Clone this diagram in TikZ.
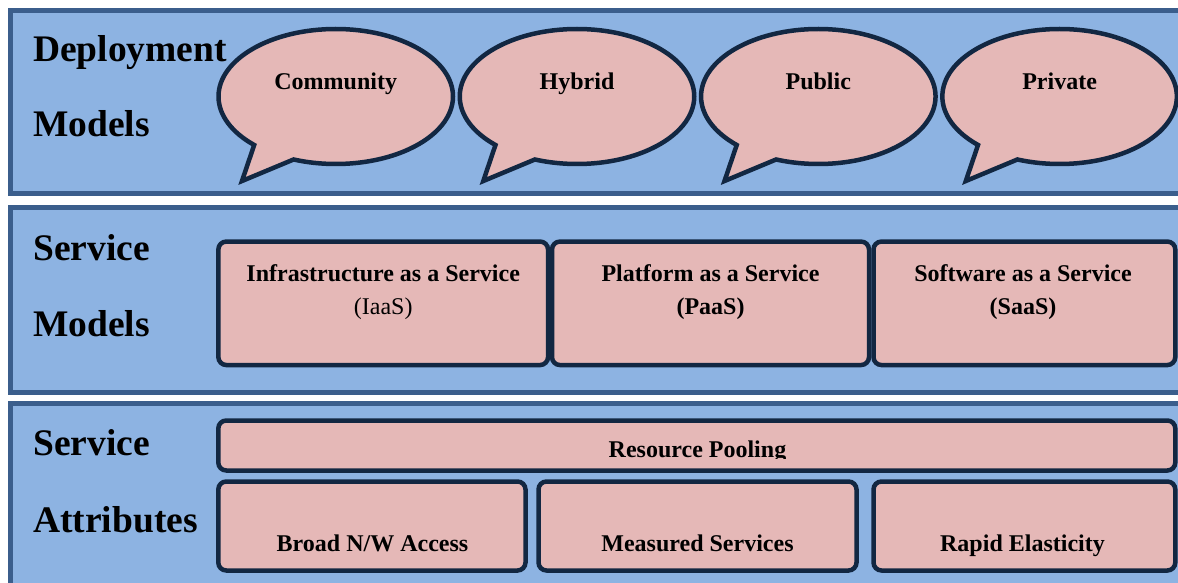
\documentclass[tikz,border=0pt]{standalone}
\usepackage{fontspec}
\setmainfont{Liberation Serif}
\usetikzlibrary{shapes.callouts}
\definecolor{panelblue}{RGB}{141,179,226}
\definecolor{panelline}{RGB}{59,94,140}
\definecolor{boxpink}{RGB}{229,184,183}
\definecolor{darkline}{RGB}{18,39,66}
\begin{document}
\begin{tikzpicture}[x=1pt,y=-1pt]
  \tikzstyle{panel}=[draw=panelline,fill=panelblue,line width=5pt]
  \tikzstyle{bubble}=[ellipse callout,draw=darkline,fill=boxpink,line width=4.5pt,
    minimum width=234.5pt,minimum height=135pt,inner sep=0pt,callout pointer arc=23]
  \tikzstyle{modelbox}=[draw=darkline,fill=boxpink,line width=4.5pt,rounded corners=8pt,inner sep=0pt]
  \tikzstyle{heading}=[anchor=base west,inner sep=0pt,font=\fontsize{37.5}{40}\selectfont\bfseries]
  \tikzstyle{boxtext}=[anchor=base,inner sep=0pt,font=\fontsize{24}{26}\selectfont\bfseries]
  \tikzstyle{plaintext}=[anchor=base,inner sep=0pt,font=\fontsize{24}{26}\selectfont]
  \useasboundingbox (0,0) rectangle (1178,583);
  \fill[white] (0,0) rectangle (1178,583);
  \clip (0,0) rectangle (1178,583);
  % panels
  \draw[panel] (10.5,10.5) rectangle (1200,193);
  \draw[panel] (10.5,207.5) rectangle (1200,392.5);
  \draw[panel] (10.5,403.2) rectangle (1200,620);
  \node[heading] (deployment) at (33,62)  {Deployment};
  \node[heading] (deploymodels) at (33,137) {Models};
  \node[heading] (service) at (33,260) {Service};
  \node[heading] (servicemodels) at (33,336) {Models};
  \node[heading] (attrservice) at (33,455) {Service};
  \node[heading] (attributes) at (33,532) {Attributes};
  % deployment models
  \node[bubble,callout absolute pointer={(242,181)}]   (community) at (335.75,96.5) {};
  \node[bubble,callout absolute pointer={(483.3,181)}] (hybrid)    at (577,96.5) {};
  \node[bubble,callout absolute pointer={(724.5,181)}] (public)    at (818.3,96.5) {};
  \node[bubble,callout absolute pointer={(965.8,181)}] (private)   at (1059.6,96.5) {};
  \node[boxtext] (communitytext) at (335.75,90) {Community};
  \node[boxtext] (hybridtext)    at (577,90)    {Hybrid};
  \node[boxtext] (publictext)    at (818.3,90)  {Public};
  \node[boxtext] (privatetext)   at (1059.6,90) {Private};
  % service models
  \node[modelbox,minimum width=329.7pt,minimum height=123.5pt] (iaas) at (383.2,303.3) {};
  \node[modelbox,minimum width=317pt,minimum height=123.5pt]   (paas) at (710.5,303.3) {};
  \node[modelbox,minimum width=301.8pt,minimum height=123.5pt] (saas) at (1024.4,303.3) {};
  \node[boxtext]   (iaastext)  at (383.2,281)  {Infrastructure as a Service};
  \node[plaintext] (iaasshort) at (383.2,314)  {(IaaS)};
  \node[boxtext]   (paastext)  at (710.5,281)  {Platform as a Service};
  \node[boxtext]   (paasshort) at (710.5,314)  {(PaaS)};
  \node[boxtext]   (saastext)  at (1023,281)   {Software as a Service};
  \node[boxtext]   (saasshort) at (1023,314)   {(SaaS)};
  % service attributes
  \node[modelbox,minimum width=957pt,minimum height=50pt]   (pooling)  at (696.8,445.5) {};
  \node[modelbox,minimum width=307.2pt,minimum height=89pt] (broad)    at (371.9,526) {};
  \node[modelbox,minimum width=318pt,minimum height=89pt]   (measured) at (697.5,526) {};
  \node[modelbox,minimum width=301.8pt,minimum height=89pt] (rapid)    at (1024.4,526) {};
  \begin{scope}
    \clip (218,420) rectangle (1176,458.5);
    \node[boxtext] (poolingtext) at (697.5,457) {Resource Pooling};
  \end{scope}
  \node[boxtext] (broadtext)    at (372.5,551) {Broad N/W Access};
  \node[boxtext] (measuredtext) at (697.5,551) {Measured Services};
  \node[boxtext] (rapidtext)    at (1022.5,551) {Rapid Elasticity};
\end{tikzpicture}
\end{document}
